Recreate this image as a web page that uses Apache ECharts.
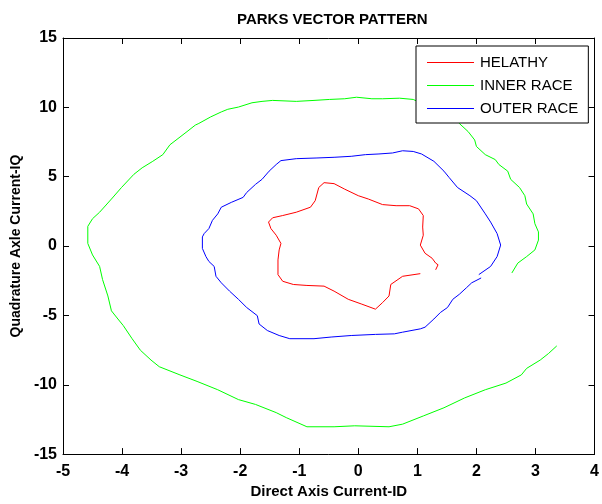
<!DOCTYPE html>
<html>
<head>
<meta charset="utf-8">
<script src="https://cdn.jsdelivr.net/npm/echarts@6/dist/echarts.min.js"></script>
<style>
html,body{margin:0;padding:0;background:#fff;}
#chart{width:602px;height:504px;}
</style>
</head>
<body>
<div id="chart"></div>
<script>
// ---- data ----
var xTicks = [-5, -4, -3, -2, -1, 0, 1, 2, 3, 4];
var yTicks = [-15, -10, -5, 0, 5, 10, 15];
var seriesNames = ['HELATHY', 'INNER RACE', 'OUTER RACE'];

var healthyX = [1.05, 0.75, 0.55, 0.52, 0.41, 0.29, 0.06, -0.17, -0.41, -0.58, -0.87, -1.10, -1.28, -1.36, -1.36, -1.34, -1.31, -1.39, -1.48, -1.52, -1.45, -1.28, -1.05, -0.81, -0.73, -0.67, -0.58, -0.41, -0.23, 0.00, 0.17, 0.41, 0.64, 0.87, 1.02, 1.10, 1.09, 1.10, 1.05, 1.13, 1.25, 1.31, 1.35, 1.31];
var healthyY = [-1.99, -2.18, -2.77, -3.60, -4.08, -4.55, -4.19, -3.84, -3.25, -2.89, -2.84, -2.77, -2.54, -2.06, -1.00, -0.28, 0.19, 0.78, 1.26, 1.73, 2.04, 2.20, 2.44, 2.80, 3.27, 4.22, 4.57, 4.50, 4.10, 3.63, 3.39, 2.99, 2.91, 2.91, 2.68, 2.20, 1.37, 0.78, 0.07, -0.52, -0.88, -1.23, -1.35, -1.71];

var innerX = [2.60, 2.70, 2.85, 2.99, 3.05, 3.05, 2.99, 2.96, 2.85, 2.82, 2.73, 2.58, 2.53, 2.38, 2.32, 2.15, 2.00, 1.97, 1.86, 1.71, 1.63, 0.93, 0.70, 0.41, 0.23, -0.03, -0.23, -0.49, -0.75, -1.05, -1.45, -1.63, -1.80, -2.03, -2.21, -2.32, -2.50, -2.70, -2.76, -2.90, -3.19, -3.31, -3.48, -3.66, -3.80, -4.01, -4.18, -4.38, -4.50, -4.58, -4.58, -4.50, -4.38, -4.33, -4.24, -4.18, -4.07, -3.98, -3.83, -3.69, -3.51, -3.37, -3.02, -2.73, -2.38, -2.03, -1.74, -1.39, -1.22, -0.87, -0.41, -0.06, 0.52, 0.75, 1.10, 1.45, 1.80, 2.15, 2.50, 2.76, 2.85, 3.08, 3.22, 3.36];
var innerY = [-1.94, -1.23, -0.76, -0.28, 0.43, 1.02, 1.61, 2.32, 3.03, 3.63, 4.22, 4.81, 5.40, 5.88, 6.23, 6.59, 7.18, 7.65, 8.25, 8.84, 9.19, 10.57, 10.66, 10.62, 10.62, 10.73, 10.62, 10.57, 10.50, 10.43, 10.50, 10.43, 10.33, 10.02, 9.86, 9.67, 9.31, 8.84, 8.72, 8.25, 7.30, 6.59, 6.11, 5.64, 5.17, 4.22, 3.39, 2.44, 1.97, 1.42, 0.19, -0.64, -1.47, -2.42, -3.60, -4.67, -5.26, -5.73, -6.68, -7.51, -8.22, -8.70, -9.29, -9.76, -10.36, -11.07, -11.42, -12.01, -12.37, -13.03, -13.03, -12.96, -13.03, -12.84, -12.25, -11.66, -10.95, -10.36, -9.88, -9.29, -8.82, -8.22, -7.75, -7.20];

var outerX = [2.04, 2.24, 2.35, 2.41, 2.35, 2.24, 2.15, 2.00, 1.89, 1.68, 1.54, 1.45, 1.28, 1.07, 0.93, 0.75, 0.58, 0.35, 0.12, -0.12, -0.41, -0.70, -1.05, -1.31, -1.39, -1.51, -1.63, -1.74, -1.89, -1.95, -2.15, -2.32, -2.38, -2.47, -2.53, -2.61, -2.64, -2.64, -2.58, -2.53, -2.44, -2.41, -2.32, -2.18, -2.03, -1.89, -1.71, -1.68, -1.54, -1.34, -1.16, -0.75, -0.46, -0.12, 0.29, 0.61, 0.75, 1.05, 1.13, 1.28, 1.39, 1.51, 1.60, 1.71, 1.83, 1.92, 2.08];
var outerY = [-2.06, -1.47, -0.76, 0.07, 0.90, 1.73, 2.32, 3.27, 3.63, 4.22, 4.93, 5.40, 6.11, 6.64, 6.82, 6.87, 6.71, 6.64, 6.59, 6.47, 6.40, 6.35, 6.30, 6.16, 5.88, 5.40, 4.81, 4.45, 3.86, 3.51, 3.15, 2.80, 2.32, 1.85, 1.26, 0.90, 0.66, -0.17, -0.76, -1.11, -1.47, -2.18, -2.65, -3.25, -3.84, -4.43, -5.02, -5.62, -6.09, -6.45, -6.68, -6.68, -6.56, -6.45, -6.37, -6.33, -6.21, -5.97, -5.85, -5.26, -4.79, -4.43, -3.84, -3.48, -3.01, -2.65, -2.30];

function zip(xs, ys) {
  var out = [];
  for (var i = 0; i < xs.length; i++) out.push([xs[i], ys[i]]);
  return out;
}

var FONT = '"Liberation Sans", Arial, Helvetica, sans-serif';
var chart = echarts.init(document.getElementById('chart'), null, {renderer: 'canvas'});

var axisLineStyle = {show: true, onZero: false, lineStyle: {color: '#000', width: 1}};
var tickStyle = {show: true, inside: true, length: 6, lineStyle: {color: '#000', width: 1}};
// thin horizontal bar spanning the full icon box (corner points fix the bounding box)
var lineIcon = 'path://M0,0 L0,0 M0,6.4 L47,6.4 L47,7.6 L0,7.6 Z M47,14 L47,14';

var option = {
  backgroundColor: '#fff',
  animation: false,
  title: {
    text: 'PARKS VECTOR PATTERN',
    left: 232,
    top: 7,
    textStyle: {fontFamily: FONT, fontSize: 15, fontWeight: 'bold', color: '#000'}
  },
  legend: {
    orient: 'vertical',
    left: 416,
    top: 46,
    padding: [9, 10, 7, 11],
    itemWidth: 47,
    itemHeight: 14,
    itemGap: 8,
    icon: lineIcon,
    itemStyle: {borderWidth: 0},
    backgroundColor: '#fff',
    borderColor: '#000',
    borderWidth: 1,
    borderRadius: 0,
    data: seriesNames,
    textStyle: {fontFamily: FONT, fontSize: 15, color: '#000', padding: [0, 0, 0, 1]},
    z: 10
  },
  grid: {left: 63, right: 3, top: 38, bottom: 42, containLabel: false},
  xAxis: [
    {
      type: 'value', position: 'bottom', min: xTicks[0], max: xTicks[xTicks.length - 1], interval: 1,
      axisLine: axisLineStyle, axisTick: tickStyle, splitLine: {show: false},
      axisLabel: {margin: 9, color: '#000', fontFamily: FONT, fontSize: 16, fontWeight: 'bold'},
      name: 'Direct Axis Current-ID', nameLocation: 'middle', nameGap: 26,
      nameTextStyle: {color: '#000', fontFamily: FONT, fontSize: 15, fontWeight: 'bold'}
    },
    {
      type: 'value', position: 'top', min: xTicks[0], max: xTicks[xTicks.length - 1], interval: 1,
      axisLine: axisLineStyle, axisTick: tickStyle, splitLine: {show: false}, axisLabel: {show: false}
    }
  ],
  yAxis: [
    {
      type: 'value', position: 'left', min: yTicks[0], max: yTicks[yTicks.length - 1], interval: 5,
      axisLine: axisLineStyle, axisTick: tickStyle, splitLine: {show: false},
      axisLabel: {margin: 6, color: '#000', fontFamily: FONT, fontSize: 16, fontWeight: 'bold'},
      name: 'Quadrature Axle Current-IQ', nameLocation: 'middle', nameGap: 39,
      nameTextStyle: {color: '#000', fontFamily: FONT, fontSize: 14, fontWeight: 'bold'}
    },
    {
      type: 'value', position: 'right', min: yTicks[0], max: yTicks[yTicks.length - 1], interval: 5,
      axisLine: axisLineStyle, axisTick: tickStyle, splitLine: {show: false}, axisLabel: {show: false}
    }
  ],
  series: [
    {name: seriesNames[0], type: 'line', data: zip(healthyX, healthyY), symbol: 'none', showSymbol: false,
     lineStyle: {color: '#ff0000', width: 1}, itemStyle: {color: '#ff0000'}, z: 2},
    {name: seriesNames[1], type: 'line', data: zip(innerX, innerY), symbol: 'none', showSymbol: false,
     lineStyle: {color: '#00ff00', width: 1}, itemStyle: {color: '#00ff00'}, z: 2},
    {name: seriesNames[2], type: 'line', data: zip(outerX, outerY), symbol: 'none', showSymbol: false,
     lineStyle: {color: '#0000ff', width: 1}, itemStyle: {color: '#0000ff'}, z: 2}
  ]
};
chart.setOption(option);
</script>
</body>
</html>
